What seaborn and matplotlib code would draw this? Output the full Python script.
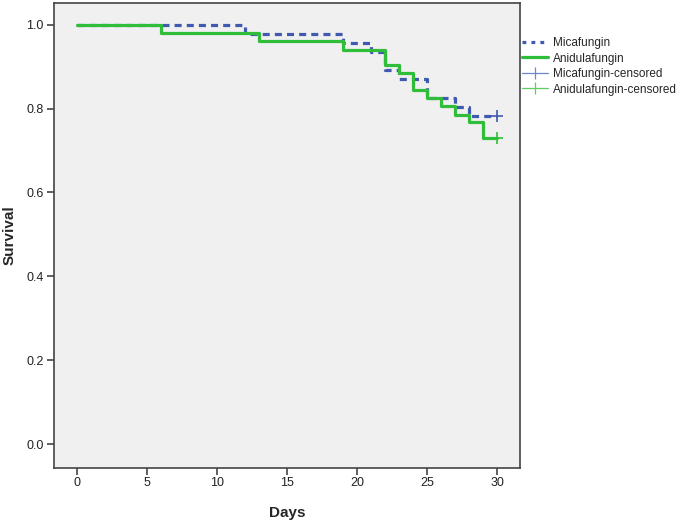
import numpy as np
import pandas as pd
import matplotlib
matplotlib.use("Agg")
import matplotlib.pyplot as plt
from matplotlib.lines import Line2D
import seaborn as sns

# Kaplan-Meier steps
mica_days = [0, 12, 19, 21, 22, 23, 25, 27, 28, 30]
mica_surv = [1.0, 0.978, 0.957, 0.935, 0.891, 0.870, 0.826, 0.804, 0.783, 0.783]
anid_days = [0, 6, 13, 19, 22, 23, 24, 25, 26, 27, 28, 29, 30]
anid_surv = [1.0, 0.980, 0.961, 0.941, 0.904, 0.884, 0.845, 0.825, 0.806, 0.786, 0.767, 0.730, 0.730]

# censored observations
mica_cens_days = [30]
mica_cens_surv = [0.783]
anid_cens_days = [30]
anid_cens_surv = [0.730]

x_ticks = [0, 5, 10, 15, 20, 25, 30]
y_ticks = [0.0, 0.2, 0.4, 0.6, 0.8, 1.0]

blue = "#3f5aae"
green = "#2fbd3a"

sns.set_style("ticks", {"axes.facecolor": "#f0f0f0", "axes.edgecolor": "#444444"})
plt.rcParams["font.family"] = ["Liberation Sans", "DejaVu Sans"]

df = pd.concat([
    pd.DataFrame({"Days": mica_days, "Survival": mica_surv, "group": "Micafungin"}),
    pd.DataFrame({"Days": anid_days, "Survival": anid_surv, "group": "Anidulafungin"}),
])

fig = plt.figure(figsize=(6.85, 5.23), dpi=100)
ax = fig.add_axes([53.5 / 685, 1 - 467.5 / 523, (520 - 53.5) / 685, (467.5 - 2.7) / 523])

sns.lineplot(data=df[df.group == "Micafungin"], x="Days", y="Survival", ax=ax,
             drawstyle="steps-post", estimator=None, sort=False,
             color=blue, lw=2.3, linestyle=(0, (2.2, 1.6)), legend=False, zorder=2)
sns.lineplot(data=df[df.group == "Anidulafungin"], x="Days", y="Survival", ax=ax,
             drawstyle="steps-post", estimator=None, sort=False,
             color=green, lw=2.3, legend=False, zorder=3)

ax.plot(mica_cens_days, mica_cens_surv, ls="none", marker="+", ms=8, mew=1.2, color=blue, zorder=4)
ax.plot(anid_cens_days, anid_cens_surv, ls="none", marker="+", ms=8, mew=1.2, color=green, zorder=4)

ax.set_xlim(-1.68, 31.64)
ax.set_ylim(-0.056, 1.0527)
ax.set_xticks(x_ticks)
ax.set_yticks(y_ticks)
ax.set_yticklabels([f"{v:.1f}" for v in y_ticks])
ax.tick_params(axis="both", length=5, width=1.2, color="#444444", labelsize=9,
               labelcolor="#222222", pad=2)
for s in ax.spines.values():
    s.set_linewidth(1.2)
    s.set_visible(True)

ax.set_xlabel("Days", fontsize=11, fontweight="bold", labelpad=12)
ax.set_ylabel("Survival", fontsize=11, fontweight="bold", labelpad=7)

handles = [
    Line2D([], [], color=blue, lw=2.3, ls=(0, (1.2, 1.6))),
    Line2D([], [], color=green, lw=2.3),
    Line2D([], [], color="#6f86c8", lw=0.9, marker="|", ms=9, mew=0.9),
    Line2D([], [], color="#5fcc66", lw=0.9, marker="|", ms=9, mew=0.9),
]
labels = ["Micafungin", "Anidulafungin", "Micafungin-censored", "Anidulafungin-censored"]
fig.legend(handles, labels, loc="upper left", bbox_to_anchor=(522 / 685, 1 - 37 / 523),
           frameon=False, fontsize=8.5, handlelength=2.2, handletextpad=0.4,
           labelspacing=0.3, borderpad=0, borderaxespad=0)

fig.savefig("out.png", dpi=100)
